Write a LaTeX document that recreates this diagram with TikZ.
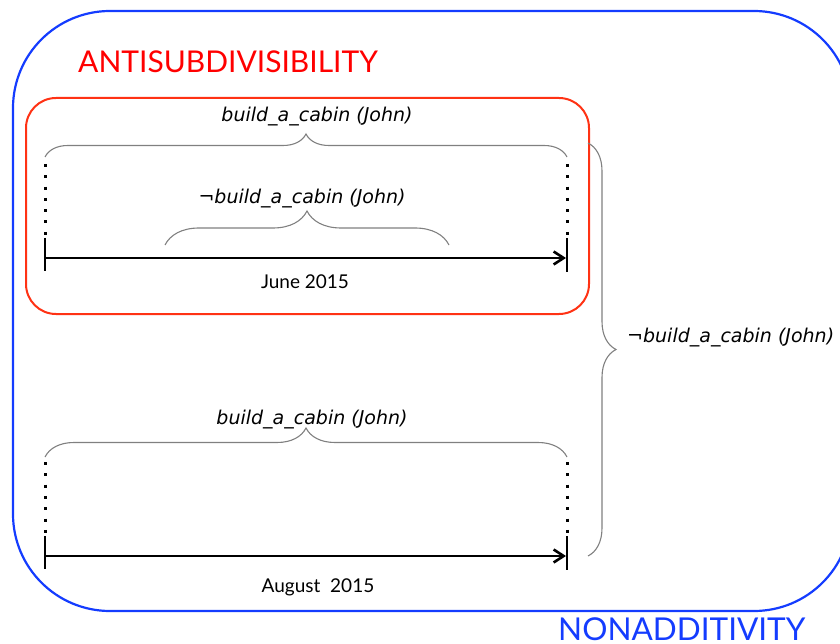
\documentclass[tikz,border=0pt]{standalone}
\usepackage{fontspec}
\setmainfont{Lato}
\newfontfamily\predfont{DejaVu Sans}
\usetikzlibrary{arrows.meta,decorations.pathreplacing}
\definecolor{boxblue}{RGB}{20,60,255}
\definecolor{boxred}{RGB}{255,50,20}
\tikzset{
  pred/.style={font=\predfont\itshape\fontsize{19}{22}\selectfont, inner sep=0pt},
  curly/.style={draw=gray, line width=1.1pt, decorate, decoration={brace, amplitude=#1}},
  timeline/.style={line width=2.6pt, -{Straight Barb[length=10pt,width=13pt]}},
  tick/.style={line width=2.8pt},
  dots/.style={line width=3pt, dash pattern=on 3pt off 8.3pt},
  title/.style={anchor=base west, inner sep=0pt, font=\fontsize{#1}{36}\selectfont},
}
\begin{document}
\begin{tikzpicture}[x=1pt,y=-1pt]
 \useasboundingbox (0,0) rectangle (840,644);

 % boxes
 \draw[boxblue, line width=2.2pt, rounded corners=97pt] (13,11) rectangle (851,611);
 \draw[boxred, line width=2pt, rounded corners=30pt] (26,98) rectangle (589,314);
 \node[title=30, red] (anti) at (78,73) {ANTISUBDIVISIBILITY};
 \node[title=31.5, boxblue] (nonadd) at (558,640) {NONADDITIVITY};

 % timelines
 \foreach \n/\y/\top/\dx/\dy/\date in { june/258/164/305/282/June 2015, aug/556/462/318/587/August~~2015 } {
   \coordinate (\n0) at (45,\y);
   \coordinate (\n1) at (566,\y);
   \draw[timeline] (\n0) -- (\n1);
   \draw[tick] (45,\y-20) -- (45,\y+13);
   \draw[tick] (567,\y-20) -- (567,\y+14);
   \draw[dots] (45,\top) -- (45,\y-22);
   \draw[dots] (567,\top) -- (567,\y-22);
   \node[font=\fontsize{19}{22}\selectfont] (\n date) at (\dx,\dy) {\date};
 }

 % braces
 \coordinate (top l) at (45,157);
 \coordinate (top r) at (567,157);
 \coordinate (in l) at (165,245);
 \coordinate (in r) at (449,245);
 \coordinate (bot l) at (45,457);
 \coordinate (bot r) at (567,457);
 \coordinate (side t) at (588,143);
 \coordinate (side b) at (588,556);

 \draw[curly=23pt] (top l) -- (top r);
 \draw[curly=34pt] (in l) -- (in r);
 \draw[curly=29pt] (bot l) -- (bot r);
 \draw[curly=28pt] (side t) -- (side b);

 \node[pred] (cabin top) at (317,117) {build\_a\_cabin (John)};
 \node[pred] (not cabin in) at (302,199) {¬build\_a\_cabin (John)};
 \node[pred] (cabin bot) at (312,420) {build\_a\_cabin (John)};
 \node[pred, anchor=west] (not cabin side) at (627,338) {¬build\_a\_cabin (John)};

\end{tikzpicture}
\end{document}
